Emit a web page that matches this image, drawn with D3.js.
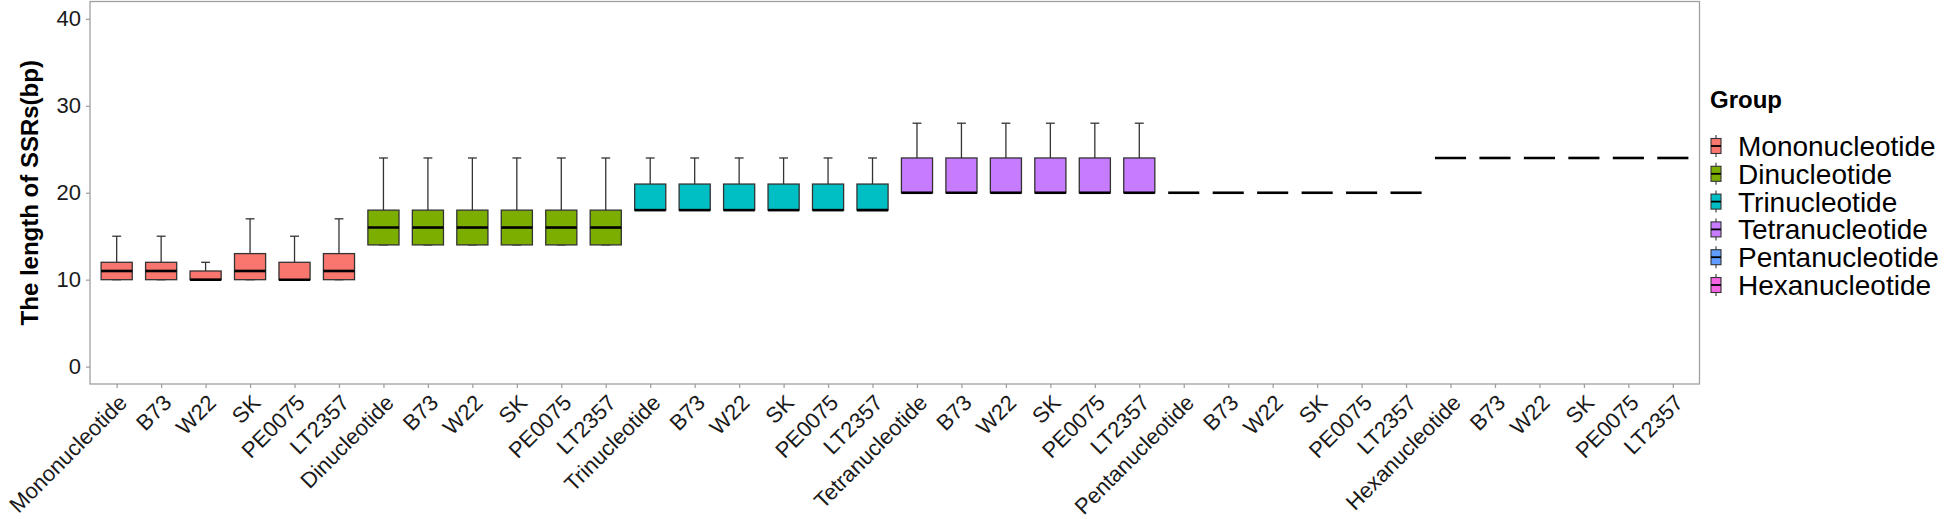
<!DOCTYPE html>
<html><head><meta charset="utf-8">
<script src="https://cdn.jsdelivr.net/npm/d3@7"></script>
<style>
body{margin:0;background:#fff}
svg text{font-family:"Liberation Sans",Arial,Helvetica,sans-serif}
</style>
</head><body>
<svg id="chart" width="1944" height="519"></svg>
<script>
// ---- data ----
const groups = ["Mononucleotide","Dinucleotide","Trinucleotide","Tetranucleotide","Pentanucleotide","Hexanucleotide"];
const strains = ["B73","W22","SK","PE0075","LT2357"];
const groupColors = ["#F8766D","#7CAE00","#00BFC4","#C77CFF","#619CFF","#F564E3"];
// one entry per x category: each group (overall) followed by its 5 strains
const lowerWhisker = [10,10,10,10,10,10, 14,14,14,14,14,14, 18,18,18,18,18,18, 20,20,20,20,20,20, 20,20,20,20,20,20, 24,24,24,24,24,24];
const q1           = [10,10,10,10,10,10, 14,14,14,14,14,14, 18,18,18,18,18,18, 20,20,20,20,20,20, 20,20,20,20,20,20, 24,24,24,24,24,24];
const median       = [11,11,10,11,10,11, 16,16,16,16,16,16, 18,18,18,18,18,18, 20,20,20,20,20,20, 20,20,20,20,20,20, 24,24,24,24,24,24];
const q3           = [12,12,11,13,12,13, 18,18,18,18,18,18, 21,21,21,21,21,21, 24,24,24,24,24,24, 20,20,20,20,20,20, 24,24,24,24,24,24];
const upperWhisker = [15,15,12,17,15,17, 24,24,24,24,24,24, 24,24,24,24,24,24, 28,28,28,28,28,28, 20,20,20,20,20,20, 24,24,24,24,24,24];
const yTicks = [0,10,20,30,40];
const yTitle = "The length of SSRs(bp)";
const legendTitle = "Group";

// ---- derived category table ----
const labels = [];
const groupIndex = [];
groups.forEach((g, gi) => { [g, ...strains].forEach(l => { labels.push(l); groupIndex.push(gi); }); });
const rows = labels.map((l, i) => ({i, label: l, g: groupIndex[i], lo: lowerWhisker[i], q1: q1[i], med: median[i], q3: q3[i], hi: upperWhisker[i]}));

// ---- layout ----
const P = {left: 90, right: 1699.5, top: 1.5, bottom: 384};
const svg = d3.select("#chart");

const x = d3.scalePoint().domain(d3.range(labels.length)).range([P.left, P.right]).padding(0.6);
const y = d3.scaleLinear().domain([-2, 42]).range([P.bottom, P.top]);
const step = x.step();
const bw = step * 0.7, cw = step * 0.2;
const outline = "#333333";

// panel border
svg.append("rect").attr("x", P.left).attr("y", P.top).attr("width", P.right - P.left).attr("height", P.bottom - P.top)
  .attr("fill", "#fff").attr("stroke", "#a0a0a0").attr("stroke-width", 1.3);

// y axis
const gy = svg.append("g").attr("transform", `translate(${P.left},0)`)
  .call(d3.axisLeft(y).tickValues(yTicks).tickSize(4).tickPadding(5));
gy.select(".domain").remove();
gy.selectAll(".tick line").attr("stroke", "#a0a0a0").attr("stroke-width", 1.3);
gy.selectAll(".tick text").attr("font-size", 22).attr("fill", "#1a1a1a").attr("font-family", "Liberation Sans, Arial, sans-serif");

// x axis
const gx = svg.append("g").attr("transform", `translate(0,${P.bottom})`)
  .call(d3.axisBottom(x).tickSize(4).tickFormat(i => labels[i]));
gx.select(".domain").remove();
gx.selectAll(".tick line").attr("stroke", "#a0a0a0").attr("stroke-width", 1.3);
gx.selectAll(".tick text")
  .attr("font-size", 22).attr("fill", "#1a1a1a").attr("font-family", "Liberation Sans, Arial, sans-serif")
  .attr("text-anchor", "end").attr("x", 0).attr("y", 0).attr("dy", "0.72em")
  .attr("transform", "translate(0,9) rotate(-45)");

// y title
svg.append("text").attr("transform", `translate(38,${(P.top + P.bottom) / 2}) rotate(-90)`)
  .attr("text-anchor", "middle").attr("font-size", 24).attr("font-weight", "bold").attr("fill", "#000").text(yTitle);

// error bars (whiskers)
const eb = svg.append("g").selectAll("g").data(rows).join("g");
eb.append("line").attr("x1", d => x(d.i)).attr("x2", d => x(d.i)).attr("y1", d => y(d.hi)).attr("y2", d => y(d.lo))
  .attr("stroke", outline).attr("stroke-width", 1.3);
eb.append("line").attr("x1", d => x(d.i) - cw / 2).attr("x2", d => x(d.i) + cw / 2).attr("y1", d => y(d.hi)).attr("y2", d => y(d.hi))
  .attr("stroke", outline).attr("stroke-width", 1.3);
eb.append("line").attr("x1", d => x(d.i) - cw / 2).attr("x2", d => x(d.i) + cw / 2).attr("y1", d => y(d.lo)).attr("y2", d => y(d.lo))
  .attr("stroke", outline).attr("stroke-width", 1.3);

// boxes
const bx = svg.append("g").selectAll("g").data(rows).join("g");
bx.append("rect").attr("x", d => x(d.i) - bw / 2).attr("width", bw)
  .attr("y", d => y(d.q3)).attr("height", d => y(d.q1) - y(d.q3))
  .attr("fill", d => groupColors[d.g]).attr("stroke", outline).attr("stroke-width", 1.3);
bx.append("line").attr("x1", d => x(d.i) - bw / 2).attr("x2", d => x(d.i) + bw / 2)
  .attr("y1", d => y(d.med)).attr("y2", d => y(d.med)).attr("stroke", "#000").attr("stroke-width", 2.6);

// legend
const lg = svg.append("g");
lg.append("text").attr("x", 1710).attr("y", 108).attr("font-size", 24).attr("font-weight", "bold").attr("fill", "#000").text(legendTitle);
const items = lg.selectAll("g.item").data(groups).join("g").attr("class", "item")
  .attr("transform", (d, i) => `translate(1716,${146 + i * 27.8})`);
items.append("line").attr("x1", 0).attr("x2", 0).attr("y1", -11).attr("y2", 11).attr("stroke", outline).attr("stroke-width", 1.1);
items.append("rect").attr("x", -5).attr("y", -7.5).attr("width", 10).attr("height", 15)
  .attr("fill", (d, i) => groupColors[i]).attr("stroke", outline).attr("stroke-width", 1.1);
items.append("line").attr("x1", -5).attr("x2", 5).attr("y1", 0).attr("y2", 0).attr("stroke", "#000").attr("stroke-width", 1.8);
items.append("text").attr("x", 22).attr("y", 0).attr("dy", "0.36em").attr("font-size", 28).attr("fill", "#000").text(d => d);
</script>
</body></html>
